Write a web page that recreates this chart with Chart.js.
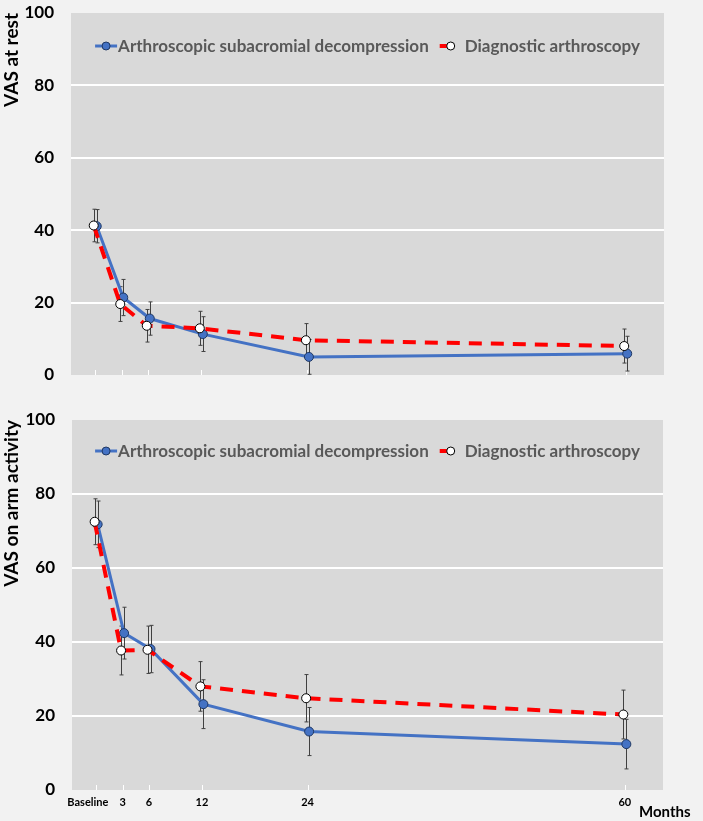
<!DOCTYPE html>
<html>
<head>
<meta charset="utf-8">
<script src="https://cdn.jsdelivr.net/npm/chart.js@4.4.1/dist/chart.umd.min.js"></script>
<style>
    html, body { margin: 0; padding: 0; background: #f2f2f2; }
    #wrap { position: relative; width: 703px; height: 821px; }
    #wrap canvas { position: absolute; left: 0; }
</style>
</head>
<body>
<div id="wrap">
    <canvas id="restChart" width="703" height="400" style="top:0"></canvas>
    <canvas id="armChart" width="703" height="421" style="top:400px"></canvas>
</div>
<script>
// ---- data ----
const months = [0, 3, 6, 12, 24, 60];
const tickLabels = ['Baseline\u2003\u2003', '3', '6', '12', '24', '60'];
const seriesNames = ['Arthroscopic subacromial decompression', 'Diagnostic arthroscopy'];

const restASD    = [41.1, 21.4, 15.6, 11.3, 5.0, 5.9];
const restASDErr = [4.6, 5.0, 4.6, 4.8, 4.8, 4.8];
const restDA     = [41.3, 19.6, 13.6, 12.9, 9.6, 8.0];
const restDAErr  = [4.5, 4.8, 4.5, 4.7, 4.6, 4.7];

const armASD     = [71.8, 42.4, 38.1, 23.2, 15.8, 12.4];
const armASDErr  = [6.3, 7.0, 6.4, 6.6, 6.5, 6.7];
const armDA      = [72.5, 37.7, 37.9, 28.0, 24.8, 20.4];
const armDAErr   = [6.2, 6.6, 6.4, 6.7, 6.4, 6.6];

const FONT = 'Lato, "Open Sans", sans-serif';
const BLUE = '#4472c4';
const RED = '#ff0000';

// small side-by-side shift, like the original so the error bars don't overlap
const SHIFT = 0.17;
const toPoints = (vals, dx) => vals.map((v, i) => ({ x: months[i] + dx, y: v }));

// grey plot area + white tick stubs
const plotBackground = {
    id: 'plotBackground',
    beforeDraw(chart) {
        const { ctx, chartArea: a, scales } = chart;
        ctx.save();
        ctx.fillStyle = '#d9d9d9';
        ctx.fillRect(a.left, a.top, a.right - a.left, a.bottom - a.top);
        ctx.strokeStyle = '#ffffff';
        ctx.lineWidth = 1;
        months.forEach(m => {
            const x = Math.round(scales.x.getPixelForValue(m)) + 0.5;
            ctx.beginPath();
            ctx.moveTo(x, a.bottom - 5);
            ctx.lineTo(x, a.bottom);
            ctx.stroke();
        });
        ctx.restore();
    }
};

// error bars, drawn under the lines
const errorBars = {
    id: 'errorBars',
    beforeDatasetsDraw(chart) {
        const { ctx, scales } = chart;
        ctx.save();
        ctx.strokeStyle = '#404040';
        ctx.lineWidth = 1;
        chart.data.datasets.forEach(ds => {
            if (!ds.errors) return;
            ds.data.forEach((p, i) => {
                const e = ds.errors[i];
                const x = Math.round(scales.x.getPixelForValue(p.x)) + 0.5;
                const yt = scales.y.getPixelForValue(p.y + e);
                const yb = scales.y.getPixelForValue(Math.max(p.y - e, 0));
                ctx.beginPath();
                ctx.moveTo(x, yt); ctx.lineTo(x, yb);
                ctx.moveTo(x - 2, yt); ctx.lineTo(x + 2, yt);
                ctx.moveTo(x - 2, yb); ctx.lineTo(x + 2, yb);
                ctx.stroke();
            });
        });
        ctx.restore();
    }
};

// legend inside the plot: line + marker + label
const lineLegend = {
    id: 'lineLegend',
    afterDraw(chart, args, opts) {
        const { ctx, chartArea: a } = chart;
        const dsList = [...chart.data.datasets].sort((p, q) => p.legendIndex - q.legendIndex);
        ctx.save();
        ctx.font = opts.font;
        const markW = 22;
        const widths = dsList.map(ds => ctx.measureText(ds.label).width);
        const gaps = [1, 3];
        const total = markW + gaps[0] + widths[0] + 11 + markW + gaps[1] + widths[1];
        let x = (a.left + a.right) / 2 - total / 2;
        const y = a.top + opts.dy;
        dsList.forEach((ds, i) => {
            ctx.strokeStyle = ds.borderColor;
            ctx.lineWidth = ds.borderWidth;
            ctx.beginPath();
            if (ds.borderDash) {
                ctx.moveTo(x, y); ctx.lineTo(x + 8, y);
            } else {
                ctx.moveTo(x, y); ctx.lineTo(x + markW, y);
            }
            ctx.stroke();
            ctx.beginPath();
            ctx.arc(x + markW / 2, y, 4, 0, Math.PI * 2);
            ctx.fillStyle = ds.pointBackgroundColor;
            ctx.fill();
            ctx.lineWidth = 1;
            ctx.strokeStyle = ds.pointBorderColor;
            ctx.stroke();
            x += markW + gaps[i];
            ctx.fillStyle = '#595959';
            ctx.textBaseline = 'middle';
            ctx.textAlign = 'left';
            ctx.fillText(ds.label, x, y + 1);
            x += widths[i] + 11;
        });
        ctx.restore();
    }
};

// "Months" caption at the lower right
const monthsCaption = {
    id: 'monthsCaption',
    afterDraw(chart, args, opts) {
        if (!opts.text) return;
        const { ctx, chartArea: a } = chart;
        ctx.save();
        ctx.font = 'bold 15px ' + FONT;
        ctx.fillStyle = '#000';
        ctx.textBaseline = 'middle';
        ctx.fillText(opts.text, a.right - 24, a.bottom + 22);
        ctx.restore();
    }
};

function makeChart(id, title, asd, asdErr, da, daErr, box) {
    return new Chart(document.getElementById(id), {
        type: 'line',
        data: {
            datasets: [{
                label: seriesNames[1],
                legendIndex: 1,
                data: toPoints(da, -SHIFT),
                errors: daErr,
                borderColor: RED,
                borderWidth: 4,
                borderDash: [13, 9],
                pointRadius: 4.5,
                pointBackgroundColor: '#ffffff',
                pointBorderColor: '#000000',
                pointBorderWidth: 1,
                tension: 0
            }, {
                label: seriesNames[0],
                legendIndex: 0,
                data: toPoints(asd, SHIFT),
                errors: asdErr,
                borderColor: BLUE,
                borderWidth: 3,
                pointRadius: 4.5,
                pointBackgroundColor: BLUE,
                pointBorderColor: '#1f3864',
                pointBorderWidth: 1,
                tension: 0
            }]
        },
        options: {
            responsive: false,
            animation: false,
            layout: { padding: { top: box.top, right: box.right, left: 0, bottom: 0 } },
            plugins: {
                legend: { display: false },
                tooltip: { enabled: false },
                lineLegend: { font: 'bold 17px ' + FONT, dy: box.legendDy },
                monthsCaption: { text: box.caption }
            },
            scales: {
                x: {
                    type: 'linear',
                    min: -2.74, max: 64.33,
                    afterBuildTicks: s => { s.ticks = months.map(v => ({ value: v })); },
                    afterFit: s => { s.height = box.xHeight; s.paddingLeft = 0; s.paddingRight = 0; },
                    grid: { display: false, drawTicks: false },
                    border: { display: false },
                    ticks: {
                        display: box.showX,
                        padding: 6,
                        maxRotation: 0,
                        autoSkip: false,
                        color: '#000',
                        font: { family: FONT, size: 11, weight: 'bold' },
                        callback: v => tickLabels[months.indexOf(v)]
                    }
                },
                y: {
                    min: 0, max: 100,
                    afterFit: s => { s.width = box.left; s.paddingTop = 0; s.paddingBottom = 0; },
                    grid: {
                        drawTicks: false,
                        lineWidth: 2,
                        color: c => (c.tick && (c.tick.value === 0 || c.tick.value === 100)) ? 'rgba(0,0,0,0)' : '#ffffff'
                    },
                    border: { display: false },
                    ticks: {
                        stepSize: 20,
                        padding: 17,
                        color: '#000',
                        font: { family: FONT, size: 17, weight: 'bold' }
                    },
                    title: {
                        display: true,
                        text: title,
                        align: 'end',
                        color: '#000',
                        padding: { top: 0, bottom: 0 },
                        font: { family: FONT, size: 19, weight: 'bold' }
                    }
                }
            }
        },
        plugins: [plotBackground, errorBars, lineLegend, monthsCaption]
    });
}

makeChart('restChart', 'VAS at rest', restASD, restASDErr, restDA, restDAErr,
    { top: 13, right: 39, left: 71, xHeight: 25, showX: false, legendDy: 33, caption: '' });
makeChart('armChart', 'VAS on arm activity', armASD, armASDErr, armDA, armDAErr,
    { top: 20, right: 40, left: 72, xHeight: 31, showX: true, legendDy: 31, caption: 'Months' });
</script>
</body>
</html>
